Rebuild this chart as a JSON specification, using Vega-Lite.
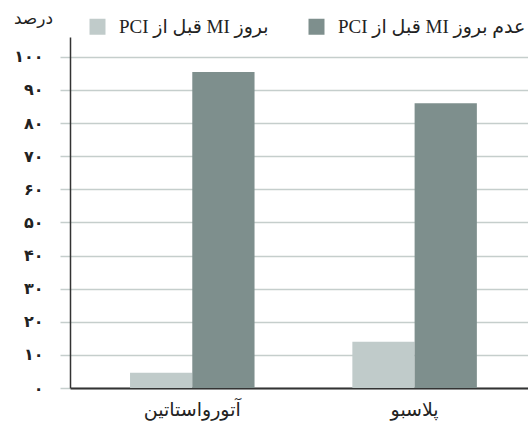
{
  "$schema": "https://vega.github.io/schema/vega-lite/v6.json",
  "autosize": {"type": "none"},
  "padding": {"left": 70, "top": 37, "right": 0, "bottom": 42},
  "width": 458,
  "height": 351,
  "background": "white",
  "config": {
    "view": {"stroke": null},
    "font": "Liberation Serif, DejaVu Sans"
  },
  "data": {
    "values": [
      {"drug": "آتورواستاتین", "series": "بروز MI قبل از PCI", "value": 4.6},
      {"drug": "آتورواستاتین", "series": "عدم بروز MI قبل از PCI", "value": 95.4},
      {"drug": "پلاسبو", "series": "بروز MI قبل از PCI", "value": 14},
      {"drug": "پلاسبو", "series": "عدم بروز MI قبل از PCI", "value": 86}
    ]
  },
  "mark": {"type": "bar"},
  "encoding": {
    "x": {
      "field": "drug",
      "type": "nominal",
      "sort": ["آتورواستاتین", "پلاسبو"],
      "scale": {"paddingInner": 0.44, "paddingOuter": 0.25, "align": 0.54},
      "axis": {
        "title": null,
        "labelAngle": 0,
        "ticks": false,
        "labelPadding": 12,
        "labelFontSize": 19,
        "labelColor": "#222",
        "domainColor": "#333",
        "domainWidth": 2,
        "grid": false
      }
    },
    "xOffset": {
      "field": "series",
      "type": "nominal",
      "sort": ["بروز MI قبل از PCI", "عدم بروز MI قبل از PCI"],
      "scale": {"paddingInner": 0, "paddingOuter": 0}
    },
    "y": {
      "field": "value",
      "type": "quantitative",
      "scale": {"domain": [0, 106], "nice": false},
      "axis": {
        "values": [0, 10, 20, 30, 40, 50, 60, 70, 80, 90, 100],
        "labelExpr": "datum.value == 0 ? '۰' : datum.value == 100 ? '۱۰۰' : substring('۰۱۲۳۴۵۶۷۸۹', datum.value/10, datum.value/10 + 1) + '۰'",
        "labelFontSize": 16,
        "labelFontWeight": "bold",
        "labelColor": "#222",
        "labelPadding": 17,
        "tickSize": 10,
        "tickColor": "#c5cecc",
        "tickWidth": 1.5,
        "grid": true,
        "gridColor": "#c5cecc",
        "gridWidth": 1.5,
        "domainColor": "#333",
        "domainWidth": 1.5,
        "title": "درصد",
        "titleAngle": 0,
        "titleX": -37,
        "titleY": -19,
        "titleAlign": "center",
        "titleBaseline": "middle",
        "titleFontSize": 17,
        "titleFontWeight": "normal",
        "titleColor": "#222"
      }
    },
    "color": {
      "field": "series",
      "type": "nominal",
      "sort": ["بروز MI قبل از PCI", "عدم بروز MI قبل از PCI"],
      "scale": {
        "domain": ["بروز MI قبل از PCI", "عدم بروز MI قبل از PCI"],
        "range": ["#c0cbca", "#7e8f8d"]
      },
      "legend": {
        "orient": "none",
        "legendX": 18,
        "legendY": -20,
        "direction": "horizontal",
        "title": null,
        "symbolType": "square",
        "symbolSize": 256,
        "symbolStrokeWidth": 0,
        "labelFontSize": 19,
        "labelColor": "#222",
        "labelOffset": 12,
        "columnPadding": 38,
        "labelLimit": 400,
        "labelExpr": "'\u202b' + datum.label + '\u202c'"
      }
    }
  }
}
